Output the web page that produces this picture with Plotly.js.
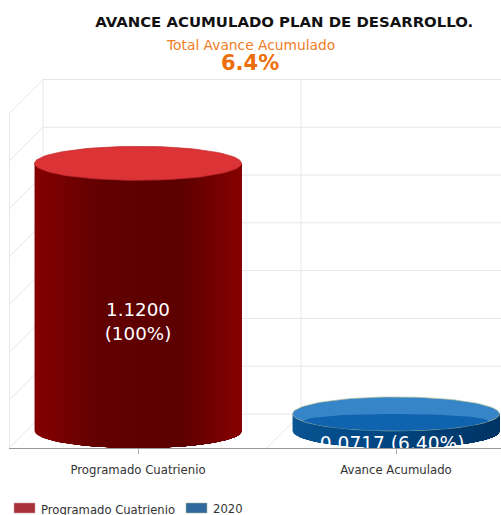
<!DOCTYPE html>
<html><head><meta charset="utf-8">
<script src="https://cdn.plot.ly/plotly-3.0.1.min.js"></script>
<style>html,body{margin:0;padding:0;background:#fff;overflow:hidden;width:501px;height:515px}#c{width:540px;height:515px}</style>
</head><body><div id="c"></div>
<script>
const categories = ["Programado Cuatrienio", "Avance Acumulado"];
const values = [1.12, 0.0717];
const pointLabels = ["1.1200<br>(100%)", "0.0717 (6.40%)"];
const legendNames = ["Programado Cuatrienio", "2020"];
const yTicks = [0, 0.2, 0.4, 0.6, 0.8, 1.0, 1.2, 1.4];

const FONT = "Verdana, 'DejaVu Sans', sans-serif";
const RX = 0.401, RY = 0.0711, DX = 0.132, DY = 0.1422;
const GRID = "#e6e6e6", WALL = "#cfcfcf";
const traces = [];
const line = (x, y, color, width) => traces.push({x, y, mode:"lines", type:"scatter", hoverinfo:"skip",
  showlegend:false, line:{color, width:width||1}, cliponaxis:false});
const poly = (x, y, fill, lc, lw) => traces.push({x, y, mode:"lines", type:"scatter", hoverinfo:"skip",
  showlegend:false, fill:"toself", fillcolor:fill, line:{color:lc||fill, width:lw||0}});

// 3D box: back plane, floor and side wall
yTicks.forEach(t => {
  line([-0.5+DX, 1.5], [t+DY, t+DY], GRID);
  line([-0.5, -0.5+DX], [t, t+DY], GRID);
});
[-0.5+DX, 0.5+DX].forEach(x => line([x,x],[DY,1.4+DY],GRID));
line([0.5,0.5+DX],[0,DY],GRID);
line([-0.5,-0.5],[0,1.4],WALL);

const lerp = (a,b,t)=>a.map((v,i)=>v+(b[i]-v)*t);
const rgb = c=>`rgb(${c.map(Math.round).join(",")})`;
function ramp(stops,u){
  for(let i=1;i<stops.length;i++) if(u<=stops[i][0]){
    const a=stops[i-1],b=stops[i]; return rgb(lerp(a[1],b[1],(u-a[0])/(b[0]-a[0])));
  }
  return rgb(stops[stops.length-1][1]);
}
const RED=[[0,[134,0,0]],[0.3,[98,0,0]],[0.7,[92,0,0]],[1,[134,0,0]]];
const BLUE=[[0,[10,84,146]],[0.35,[0,72,134]],[0.7,[0,62,116]],[1,[0,52,100]]];

function cylinder(cx, v, stops, top, outline){
  const n=60, yc=v+RY;
  const low=t=>RY-RY*Math.sqrt(Math.max(0,1-t*t));
  for(let i=0;i<n;i++){
    // each band runs to the right rim; the next band paints over it, so no seams show
    const a=-1+2*i/n, xs=[cx+a*RX], ys=[yc];
    xs.push(cx+RX); ys.push(yc);
    const m=80;
    for(let k=0;k<=m;k++){
      // cosine spacing keeps the rounded bottom smooth near the rims
      const t=a+(1-a)*(1+Math.cos(Math.PI*k/m))/2; xs.push(cx+t*RX); ys.push(low(t));
    }
    xs.push(cx+a*RX); ys.push(yc);
    poly(xs,ys,ramp(stops,(i+0.5)/n));
  }
  const ex=[],ey=[];
  for(let i=0;i<=90;i++){const a=2*Math.PI*i/90; ex.push(cx+RX*Math.cos(a)); ey.push(yc+RY*Math.sin(a));}
  poly(ex,ey,top,outline,0.7);
}
cylinder(0, values[0], RED, "#db3336", "#c02c2e");
cylinder(1, values[1], BLUE, "#3585c8", "#b9c29a");

// darker lens inside the translucent top of the short cylinder
(function(){
  const cx=1, yc=values[1]+RY, lim=0.9, xs=[], ys=[];
  for(let i=0;i<=40;i++){const t=-lim+2*lim*i/40; xs.push(cx+t*RX); ys.push(yc-RY*Math.sqrt(1-t*t));}
  const edge=yc-RY*Math.sqrt(1-lim*lim);
  for(let i=40;i>=0;i--){const t=-lim+2*lim*i/40; xs.push(cx+t*RX); ys.push(edge+(yc-edge)*Math.sqrt(Math.max(0,1-(t/lim)*(t/lim))));}
  poly(xs,ys,"#1063ae");
})();

// value labels (second one is clipped by the plot area, as in the source)
traces.push({x:[0.0], y:[0.52], mode:"text", type:"scatter", text:[pointLabels[0]], hoverinfo:"skip", showlegend:false,
  textposition:"middle center", textfont:{family:FONT,size:18.3,color:"#fff"}});
traces.push({x:[0.985], y:[0.012], mode:"text", type:"scatter", text:[pointLabels[1]], hoverinfo:"skip", showlegend:false,
  textposition:"middle center", cliponaxis:true, textfont:{family:FONT,size:18.6,color:"#fff"}});

const W=540,H=515;
const layout={
  width:W,height:H,margin:{l:9,r:15,t:79,b:67},paper_bgcolor:"#fff",plot_bgcolor:"#fff",showlegend:false,
  title:{text:"<b>AVANCE ACUMULADO PLAN DE DESARROLLO.</b>",x:288/W,xanchor:"center",xref:"paper",y:1-22/H,yanchor:"middle",
    font:{family:FONT,size:14.9,color:"#111"}},
  xaxis:{range:[-0.5,1.5],tickmode:"array",tickvals:[0,1],ticktext:categories,ticks:"outside",ticklen:5,tickcolor:"#aaa",
    ticklabelstandoff:6,showgrid:false,zeroline:false,showline:true,linecolor:"#999",linewidth:1,
    tickfont:{family:FONT,size:11.7,color:"#333"}},
  yaxis:{range:[0,1.544],showgrid:false,zeroline:false,showticklabels:false,ticks:""},
  annotations:[
    {xref:"paper",yref:"paper",x:241/516,y:1+34/369,text:"Total Avance Acumulado",showarrow:false,xanchor:"center",yanchor:"middle",
      font:{family:FONT,size:13.8,color:"#f07c1e"}},
    {xref:"paper",yref:"paper",x:241/516,y:1+16/369,text:"<b>6.4%</b>",showarrow:false,xanchor:"center",yanchor:"middle",
      font:{family:FONT,size:21,color:"#ec6f0b"}},
    {xref:"paper",yref:"paper",x:30/516,y:-62/369,text:legendNames[0],showarrow:false,xanchor:"left",yanchor:"middle",
      font:{family:FONT,size:11.6,color:"#333"}},
    {xref:"paper",yref:"paper",x:202/516,y:-61/369,text:legendNames[1],showarrow:false,xanchor:"left",yanchor:"middle",
      font:{family:FONT,size:11.6,color:"#333"}}
  ],
  shapes:[
    {type:"rect",xref:"paper",yref:"paper",x0:5/516,x1:26/516,y0:-65/369,y1:-55/369,fillcolor:"#a8323a",line:{color:"#c9a0a0",width:0.5}},
    {type:"rect",xref:"paper",yref:"paper",x0:177/516,x1:198/516,y0:-65/369,y1:-55/369,fillcolor:"#30699b",line:{color:"#a9b59a",width:0.5}}
  ]
};
Plotly.newPlot("c",traces,layout,{displayModeBar:false,responsive:false});
</script></body></html>
